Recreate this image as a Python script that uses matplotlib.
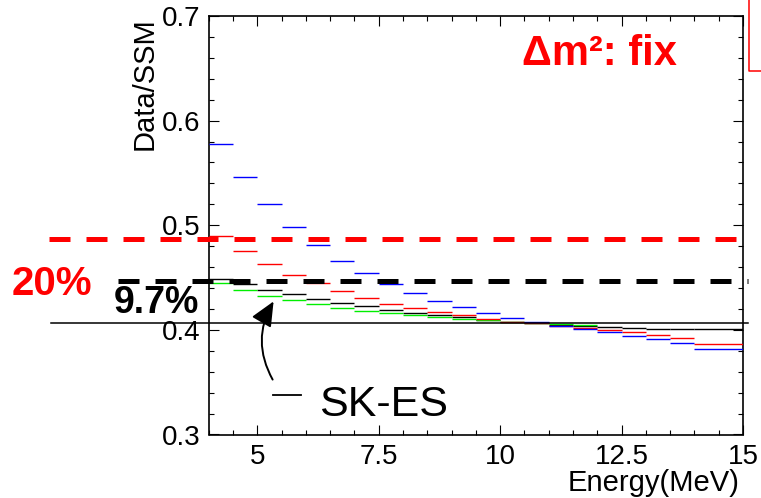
import matplotlib
matplotlib.use("Agg")
import matplotlib.pyplot as plt
import numpy as np
from matplotlib.patches import FancyArrowPatch, ArrowStyle
from matplotlib.lines import Line2D
from matplotlib.ticker import MultipleLocator, FixedLocator, FixedFormatter
import matplotlib.transforms as mtransforms

plt.rcParams['font.family'] = ['Liberation Sans', 'DejaVu Sans']

# ---------------- data ----------------
bin_edges = [4.0, 4.5, 5.0, 5.5, 6.0, 6.5, 7.0, 7.5, 8.0, 8.5, 9.0, 9.5,
             10.0, 10.5, 11.0, 11.5, 12.0, 12.5, 13.0, 13.5, 14.0, 15.0]

blue_vals = [0.578, 0.546, 0.520, 0.498, 0.481, 0.466, 0.454, 0.444, 0.4355,
             0.428, 0.4218, 0.416, 0.4115, 0.4075, 0.4041, 0.4013, 0.3978,
             0.3946, 0.3914, 0.3873, 0.3819]
red_vals = [0.490, 0.475, 0.463, 0.4527, 0.4444, 0.4368, 0.4305, 0.425, 0.4206,
            0.417, 0.4138, 0.4105, 0.4075, 0.4065, 0.404, 0.402, 0.400,
            0.3975, 0.3952, 0.3921, 0.3867]
black_vals = [0.449, 0.4438, 0.4384, 0.434, 0.4295, 0.426, 0.4225, 0.4194,
              0.4165, 0.4143, 0.4124, 0.4095, 0.408, 0.4065, 0.405, 0.404,
              0.4032, 0.4022, 0.4013, 0.4013, 0.4013]
green_edges = bin_edges[:17]
green_vals = [0.4451, 0.4381, 0.4327, 0.4283, 0.4244, 0.4213, 0.4184, 0.4159,
              0.414, 0.412, 0.4106, 0.4095, 0.4075, 0.4062, 0.4055, 0.4048]

ref_red = 0.4867      # +20 %
ref_black = 0.447     # +9.7 %
ref_solid = 0.4070    # SK-ES

xticks = [5, 7.5, 10, 12.5, 15]
xtick_labels = ["5", "7.5", "10", "12.5", "15"]
yticks = [0.3, 0.4, 0.5, 0.6, 0.7]
ytick_labels = ["0.3", "0.4", "0.5", "0.6", "0.7"]

# ---------------- figure ----------------
W, H = 761, 498
fig = plt.figure(figsize=(W / 100, H / 100), dpi=100)
ax = fig.add_axes([208.7 / W, (H - 434.5) / H, (743 - 208.7) / W, (434.5 - 16) / H])
ax.set_xlim(4, 15)
ax.set_ylim(0.3, 0.7)

def px(x, y):
    return (x / W, 1 - y / H)

def steps(edges, vals, color, z):
    e = np.asarray(edges)
    ax.hlines(vals, e[:-1], e[1:], colors=color, linewidth=1.0, zorder=z)

steps(bin_edges, black_vals, 'black', 2)
steps(green_edges, green_vals, '#00ee00', 3)
steps(bin_edges, red_vals, '#ff0000', 4)
steps(bin_edges, blue_vals, '#0000ff', 5)

trans = mtransforms.blended_transform_factory(ax.transAxes, ax.transData)
ax.plot([-0.298, 1.009], [ref_red, ref_red], color='#ff0000', lw=3.6,
        dashes=(4.2, 3.2), transform=trans, clip_on=False, zorder=6,
        solid_capstyle='butt', dash_capstyle='butt')
ax.plot([-0.170, 1.009], [ref_black, ref_black], color='black', lw=3.6,
        dashes=(4.2, 3.2), transform=trans, clip_on=False, zorder=6,
        solid_capstyle='butt', dash_capstyle='butt')
ax.plot([-0.295, 1.009], [ref_solid, ref_solid], color='black', lw=1.1,
        transform=trans, clip_on=False, zorder=7)

# ticks
ax.xaxis.set_major_locator(FixedLocator(xticks))
ax.xaxis.set_major_formatter(FixedFormatter(xtick_labels))
ax.xaxis.set_minor_locator(MultipleLocator(0.5))
ax.yaxis.set_major_locator(FixedLocator(yticks))
ax.yaxis.set_major_formatter(FixedFormatter(ytick_labels))
ax.yaxis.set_minor_locator(MultipleLocator(0.02))
ax.tick_params(which='both', direction='in', top=True, right=True,
               labelsize=20, width=0.8, color='black')
ax.tick_params(which='major', length=7)
ax.tick_params(which='minor', length=3.5)
ax.tick_params(axis='x', pad=7)
ax.tick_params(axis='y', pad=6)
for s in ax.spines.values():
    s.set_linewidth(1.2)

# labels
fig.text(*px(145, 17), "Data/SSM", rotation=90, ha='center', va='top', fontsize=21)
fig.text(*px(740, 491), "Energy(MeV)", ha='right', va='baseline', fontsize=21)

fig.text(*px(522, 65), "\u0394m\u00b2: fix", color='#ff0000', fontsize=30,
         fontweight='bold', ha='left', va='baseline')
fig.text(*px(12, 295), "20%", color='#ff0000', fontsize=29,
         fontweight='bold', ha='left', va='baseline')
fig.text(*px(114, 313), "9.7%", color='black', fontsize=27,
         fontweight='bold', ha='left', va='baseline')
fig.text(*px(319, 416.5), "SK-ES", color='black', fontsize=31,
         ha='left', va='baseline')
fig.add_artist(Line2D([273 / W, 301 / W], [1 - 395 / H, 1 - 395 / H],
                      color='black', lw=1.3, transform=fig.transFigure))

# arrow
arr = FancyArrowPatch(px(274, 382), px(275, 299), transform=fig.transFigure,
                      connectionstyle="arc3,rad=-0.3",
                      arrowstyle=ArrowStyle("-|>", head_length=1.0, head_width=0.45),
                      mutation_scale=15, color='black', lw=1.4)
fig.add_artist(arr)

# partial red frame at top right
fig.add_artist(Line2D([1.01, 749.3 / W, 749.3 / W], [1 - 70.7 / H, 1 - 70.7 / H, 1.01],
                      color='#ff0000', lw=1.1, transform=fig.transFigure))

fig.savefig("out.png", dpi=100)
